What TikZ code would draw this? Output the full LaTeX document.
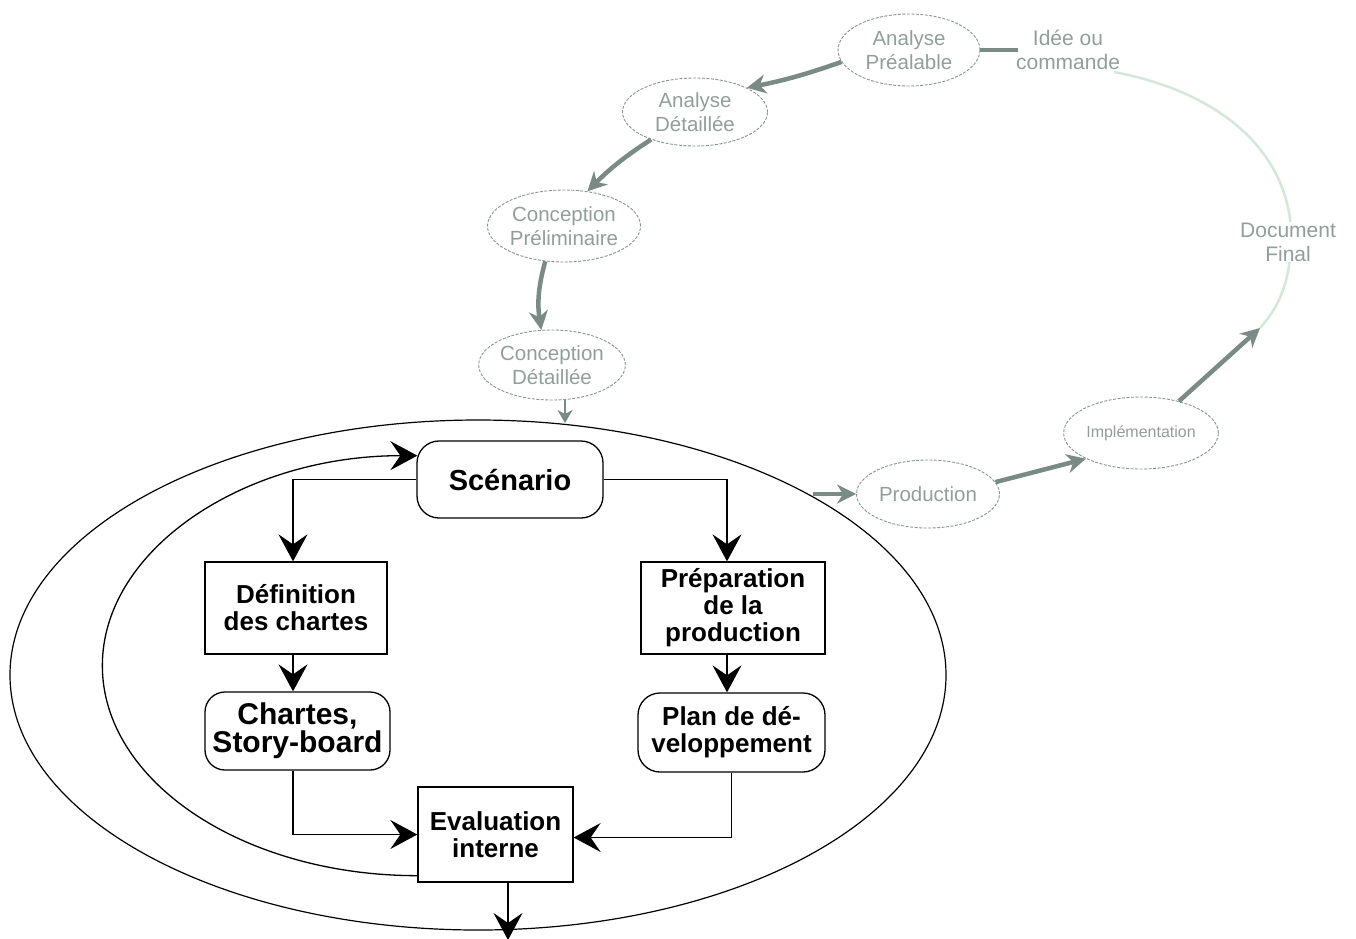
\documentclass[tikz,border=0pt]{standalone}
\usepackage{fontspec}
\setmainfont{Liberation Sans}
\usetikzlibrary{arrows.meta,shapes.geometric}
\definecolor{gtext}{RGB}{145,158,154}
\definecolor{gline}{RGB}{135,148,144}
\definecolor{garrow}{RGB}{122,138,132}
\definecolor{lgreen}{RGB}{212,232,216}
\begin{document}
\begin{tikzpicture}[x=1pt,y=-1pt,
  blk/.style={draw,line width=1.3pt,align=center,inner sep=0pt,
    font=\fontsize{26}{27}\selectfont\bfseries},
  rbox/.style={blk,rounded corners=22pt},
  barr/.style={line width=1.3pt,-{Stealth[length=27pt,width=29pt,inset=10pt]}},
  gell/.style={draw=gline,ellipse,line width=0.9pt,dash pattern=on 3pt off 1.5pt,
    inner sep=0pt,align=center,text=gtext,font=\fontsize{20.5}{24}\selectfont},
  garr/.style={draw=garrow,line width=4.5pt,-{Stealth[length=19pt,width=19pt,inset=6pt]}},
  gthin/.style={draw=garrow,line width=1.5pt,-{Stealth[length=13pt,width=15pt,inset=4pt]}},
  glabel/.style={text=gtext,align=center,inner sep=2pt,font=\fontsize{21}{24}\selectfont}
]
\useasboundingbox (0,0) rectangle (1356,938);

% ---------- black part ----------
\node[draw,ellipse,line width=1.2pt,minimum width=936pt,minimum height=510pt,inner sep=0pt] (outer) at (478,675) {};

\node[rbox,minimum width=186pt,minimum height=77pt,font=\fontsize{29}{30}\selectfont\bfseries] (scen) at (510,479.5) {Scénario};
\node[blk,minimum width=182pt,minimum height=92pt] (def) at (296,608) {Définition\\des chartes};
\node[rbox,rounded corners=20pt,minimum width=185pt,minimum height=78pt,font=\fontsize{30}{28}\selectfont\bfseries] (chart) at (297.5,731) {Chartes,\\Story-board};
\node[blk,minimum width=184pt,minimum height=92pt] (prep) at (733,608) {Préparation\\de la\\production};
\node[rbox,minimum width=187pt,minimum height=79pt] (plan) at (731.5,732.5) {Plan de dé-\\veloppement};
\node[blk,minimum width=155pt,minimum height=95pt] (eval) at (495.5,834.5) {Evaluation\\interne};

\draw[barr] (scen.west) -| ([xshift=-3pt]def.north);
\draw[barr] (scen.east) -| ([xshift=-6pt]prep.north);
\draw[barr] ([xshift=-3pt]def.south) -- ([xshift=-4.5pt]chart.north);
\draw[barr] ([xshift=-6pt]prep.south) -- ([xshift=-4.5pt]plan.north);
\draw[barr] ([xshift=-4.5pt]chart.south) |- (eval.west);
\draw[barr] (plan.south) |- ([yshift=-3pt]eval.east);
\coordinate (bottomout) at (508,940);
\draw[barr] (eval.south -| bottomout) -- (bottomout);
\draw[barr] ([yshift=7pt]eval.south west) arc[start angle=90,end angle=270,x radius=315,y radius=210];

% ---------- grey part ----------
\node[gell,minimum width=142pt,minimum height=72pt] (ap) at (909,50) {Analyse\\Préalable};
\node[gell,minimum width=145pt,minimum height=68pt] (ad) at (695,112) {Analyse\\Détaillée};
\node[gell,minimum width=144pt,minimum height=72pt] (cp) at (564,226) {Conception\\Préliminaire};
\node[gell,minimum width=140pt,minimum height=70pt] (cd) at (552,365) {Conception\\Détaillée};
\node[gell,minimum width=143pt,minimum height=68pt] (prod) at (928,494) {Production};
\node[gell,minimum width=143pt,minimum height=72pt,font=\fontsize{16}{20}\selectfont] (impl) at (1141,433) {Implémentation};
\node[glabel] (idee) at (1068,50) {Idée ou\\commande};

\coordinate (docin) at (1260,328);
\draw[lgreen,line width=2.5pt] ([xshift=-8pt]idee.south east) .. controls (1235,95) and (1295,165) .. (1291,245) .. controls (1289,285) and (1278,308) .. (docin);
\node[glabel,fill=white,inner sep=1pt] (docf) at (1288,242) {Document\\Final};

\draw[draw=garrow,line width=4.5pt] (ap.east) -- ([xshift=4pt]idee.west);
\draw[garr] (ap.190) to[bend left=4] (ad.25);
\draw[garr] (ad.212) to[bend right=6] (cp.56);
\draw[garr] (cp.242) to[bend right=12] (cd.107);
\coordinate (topin) at (565,423);
\draw[gthin] (cd.south -| topin) -- (topin);
\coordinate (outp) at (813,494);
\draw[garr] (outp) -- (prod.west);
\draw[garr] (prod.10) -- (impl.205);
\draw[garr] (impl.40) -- (docin);
\end{tikzpicture}
\end{document}
